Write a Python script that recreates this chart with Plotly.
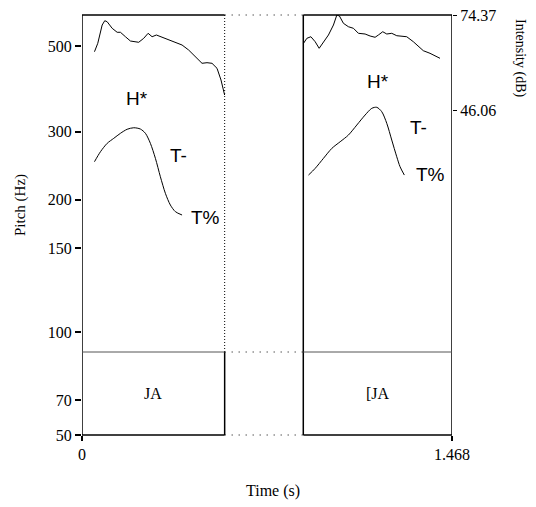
import plotly.graph_objects as go

# ---------------- data ----------------
# Left segment (0 .. 0.566 s)
int_left_t = [0.0495, 0.0626, 0.0800, 0.0903, 0.0998, 0.1197, 0.1395, 0.1525, 0.1723, 0.1922,
              0.2250, 0.2449, 0.2623, 0.2781, 0.2952, 0.3178, 0.3506, 0.3772, 0.3970, 0.4231,
              0.4497, 0.4762, 0.4960, 0.5158, 0.5357, 0.5515, 0.5658]
int_left_db = [63.43, 65.94, 71.39, 72.67, 72.37, 70.41, 69.22, 69.22, 67.90, 66.62,
               66.24, 67.43, 68.92, 67.90, 68.41, 67.73, 66.71, 66.12, 65.43, 63.94,
               61.94, 59.98, 60.16, 59.98, 58.49, 55.00, 50.53]

f0_left_t = [0.0495, 0.0733, 0.0998, 0.1260, 0.1525, 0.1791, 0.2052, 0.2318, 0.2516, 0.2714,
             0.2912, 0.3110, 0.3308, 0.3506, 0.3704, 0.3970]
f0_left_hz = [250.9, 266.3, 279.9, 288.4, 297.2, 304.4, 307.2, 304.8, 297.2, 279.9,
              256.0, 229.4, 207.8, 193.8, 186.3, 182.6]

# Right segment (0.878 .. 1.468 s)
int_right_t = [0.8788, 0.8922, 0.9081, 0.9251, 0.9410, 0.9580, 0.9778, 0.9976, 1.0111, 1.0214,
               1.0372, 1.0570, 1.0769, 1.0967, 1.1232, 1.1430, 1.1628, 1.1759, 1.1933, 1.2092,
               1.2290, 1.2488, 1.2686, 1.2884, 1.3146, 1.3344, 1.3542, 1.3807, 1.4204]
int_right_db = [65.94, 67.43, 67.90, 66.41, 64.45, 66.41, 68.41, 71.39, 74.37, 74.07,
                71.90, 70.88, 70.41, 68.92, 68.71, 68.11, 67.73, 68.41, 69.39, 68.71,
                68.92, 68.20, 68.11, 67.90, 66.41, 64.92, 63.73, 62.96, 61.47]

f0_right_t = [0.8986, 0.9251, 0.9580, 0.9913, 1.0242, 1.0570, 1.0903, 1.1232, 1.1497, 1.1695,
              1.1894, 1.2092, 1.2290, 1.2488, 1.2619, 1.2789]
f0_right_hz = [231.7, 241.1, 256.0, 271.7, 282.6, 294.1, 312.2, 331.4, 344.9, 347.0,
               338.0, 315.4, 285.5, 258.4, 243.5, 231.7]

# tier intervals and labels
segments = [(0.0, 0.566), (0.878, 1.468)]
tier_labels = ["JA", "[JA"]

# tone labels (time, label)
tone_left = [(0.218, "H*"), (0.381, "T-"), (0.490, "T%")]
tone_right = [(1.174, "H*"), (1.335, "T-"), (1.381, "T%")]

pitch_tick_vals = [500, 300, 200, 150, 90.9, 60.6, 49.2]
pitch_tick_text = ["500", "300", "200", "150", "100", "70", "50"]
int_tick_vals = [74.37, 46.06]
int_tick_text = ["74.37", "46.06"]
time_tick_vals = [0, 1.468]
time_tick_text = ["0", "1.468"]

# ---------------- figure ----------------
SERIF = "Liberation Serif, Times New Roman, serif"
SANS = "Liberation Sans, Arial, sans-serif"
OFF = 8  # default page margin of the html body
W, H = 536 - OFF, 507 - OFF
ML, MR, MT, MB = 82 - OFF, 84, 15 - OFF, 72
plot_w = W - ML - MR
plot_h = H - MT - MB


def px_to_paper(px, py):
    """screen pixel -> paper coords"""
    return (px - OFF - ML) / plot_w, (OFF + H - MB - py) / plot_h


fig = go.Figure()
line_style = dict(color="black", width=1)
fig.add_trace(go.Scatter(x=int_left_t, y=int_left_db, yaxis="y2", mode="lines", line=line_style))
fig.add_trace(go.Scatter(x=int_right_t, y=int_right_db, yaxis="y2", mode="lines", line=line_style))
fig.add_trace(go.Scatter(x=f0_left_t, y=f0_left_hz, mode="lines",
                         line=dict(color="black", width=1, shape="spline", smoothing=0.8)))
fig.add_trace(go.Scatter(x=f0_right_t, y=f0_right_hz, mode="lines",
                         line=dict(color="black", width=1, shape="spline", smoothing=0.8)))

tier_y = px_to_paper(0, 352)[1]
shapes = []
frame = dict(color="black", width=1.5)
thin = dict(color="#555", width=1)
hdot = dict(color="black", width=1, dash="1px,6px")
vdot = dict(color="black", width=1, dash="1px,2px")


def seg(x0, y0, x1, y1, line):
    shapes.append(dict(type="line", xref="x", yref="paper", x0=x0, y0=y0, x1=x1, y1=y1, line=line))


(l0, l1), (r0, r1) = segments
# left panel
seg(l0, 0, l0, 1, frame)
seg(l0, 1, l1, 1, frame)
seg(l0, 0, l1, 0, frame)
seg(l1, 0, l1, tier_y, frame)
seg(l1, tier_y, l1, 1, vdot)
seg(l0, tier_y, l1, tier_y, thin)
# gap
seg(l1, 1, r0, 1, hdot)
seg(l1, 0, r0, 0, hdot)
seg(l1, tier_y, r0, tier_y, hdot)
# right panel
seg(r0, 0, r0, 1, frame)
seg(r0, 1, r1, 1, frame)
seg(r0, 0, r1, 0, frame)
seg(r1, 0, r1, 1, frame)
seg(r0, tier_y, r1, tier_y, thin)

annotations = []
ANCH = dict(xanchor="center", yanchor="middle", showarrow=False)
for (a, b), lab in zip(segments, tier_labels):
    annotations.append(dict(x=(a + b) / 2, y=tier_y / 2, xref="x", yref="paper", text=lab,
                            font=dict(family=SERIF, size=16, color="black"), **ANCH))
tone_py_left = [98.5, 155.5, 217.5]
tone_py_right = [81.5, 127.5, 174.5]
for (t, lab), py in zip(tone_left, tone_py_left):
    annotations.append(dict(x=t, y=px_to_paper(0, py)[1], xref="x", yref="paper", text=lab,
                            font=dict(family=SANS, size=19, color="black"), **ANCH))
for (t, lab), py in zip(tone_right, tone_py_right):
    annotations.append(dict(x=t, y=px_to_paper(0, py)[1], xref="x", yref="paper", text=lab,
                            font=dict(family=SANS, size=19, color="black"), **ANCH))

# axis titles
xp, yp = px_to_paper(21, 205)
annotations.append(dict(x=xp, y=yp, xref="paper", yref="paper", text="Pitch (Hz)",
                        textangle=-90, font=dict(family=SERIF, size=15, color="black"), **ANCH))
xi, yi = px_to_paper(520, 58)
annotations.append(dict(x=xi, y=yi, xref="paper", yref="paper", text="Intensity (dB)",
                        textangle=90, font=dict(family=SERIF, size=14, color="black"), **ANCH))
xt, yt = px_to_paper(273, 491)
annotations.append(dict(x=xt, y=yt, xref="paper", yref="paper", text="Time (s)",
                        font=dict(family=SERIF, size=16, color="black"), **ANCH))

tickfont = dict(family=SERIF, size=16, color="black")
fig.update_layout(
    width=W, height=H,
    margin=dict(l=ML, r=MR, t=MT, b=MB, autoexpand=False),
    plot_bgcolor="white", paper_bgcolor="white",
    showlegend=False,
    xaxis=dict(range=[0, 1.468], showgrid=False, zeroline=False, showline=False, automargin=False,
               tickvals=time_tick_vals, ticktext=time_tick_text, ticks="outside", ticklen=5,
               tickcolor="black", tickwidth=1.5, tickfont=tickfont, ticklabeloverflow="allow"),
    yaxis=dict(type="log", range=[1.6920, 2.7793], showgrid=False, zeroline=False, showline=False,
               automargin=False, tickvals=pitch_tick_vals, ticktext=pitch_tick_text,
               ticks="outside", ticklen=6, tickcolor="black", tickwidth=1.5, tickfont=tickfont,
               ticklabeloverflow="allow"),
    yaxis2=dict(overlaying="y", side="right", range=[-50.78, 74.372], showgrid=False, zeroline=False,
                showline=False, automargin=False, tickvals=int_tick_vals, ticktext=int_tick_text,
                ticks="outside", ticklen=4, tickcolor="black", tickwidth=1, tickfont=tickfont,
                ticklabeloverflow="allow"),
    shapes=shapes,
    annotations=annotations,
)

fig.write_html("out.html")
